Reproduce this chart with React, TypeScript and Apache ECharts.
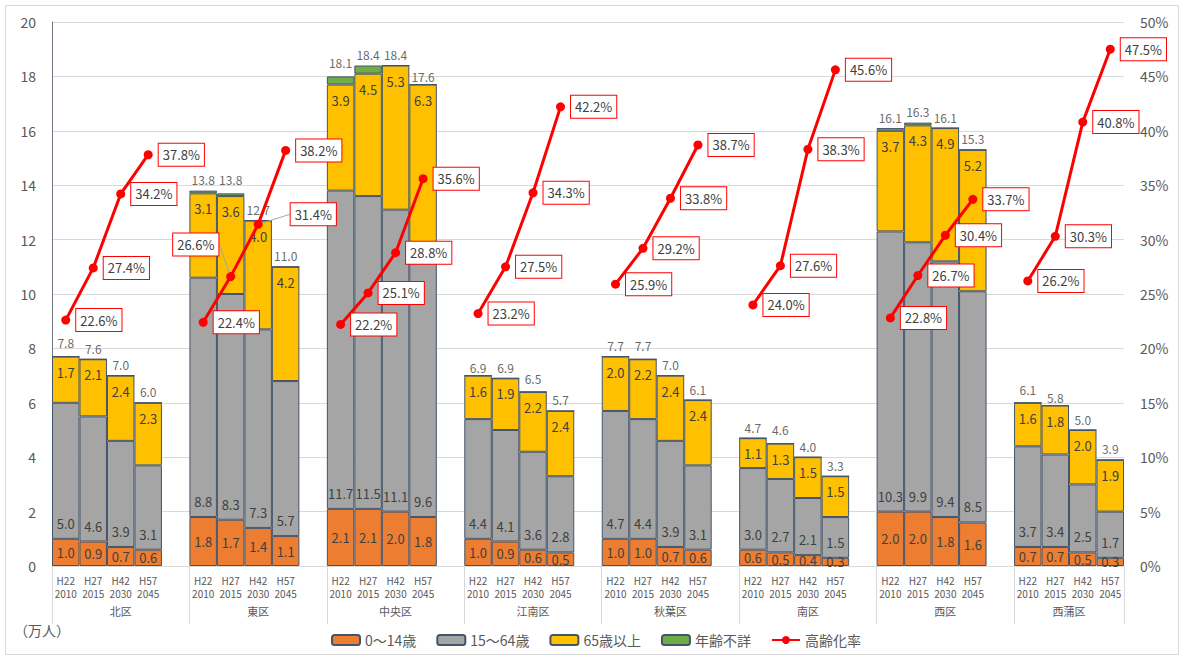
import { useEffect, useRef } from "react";
import * as echarts from "echarts";

// Districts of the city and the four survey / projection years
const districts = ["北区", "東区", "中央区", "江南区", "秋葉区", "南区", "西区", "西蒲区"];
const eras = ["H22", "H27", "H42", "H57"];
const years = ["2010", "2015", "2030", "2045"];

// Population by age group (万人), one row per district, one column per year
const age0to14 = [
  [1.0, 0.9, 0.7, 0.6],
  [1.8, 1.7, 1.4, 1.1],
  [2.1, 2.1, 2.0, 1.8],
  [1.0, 0.9, 0.6, 0.5],
  [1.0, 1.0, 0.7, 0.6],
  [0.6, 0.5, 0.4, 0.3],
  [2.0, 2.0, 1.8, 1.6],
  [0.7, 0.7, 0.5, 0.3],
];
const age15to64 = [
  [5.0, 4.6, 3.9, 3.1],
  [8.8, 8.3, 7.3, 5.7],
  [11.7, 11.5, 11.1, 9.6],
  [4.4, 4.1, 3.6, 2.8],
  [4.7, 4.4, 3.9, 3.1],
  [3.0, 2.7, 2.1, 1.5],
  [10.3, 9.9, 9.4, 8.5],
  [3.7, 3.4, 2.5, 1.7],
];
const age65plus = [
  [1.7, 2.1, 2.4, 2.3],
  [3.1, 3.6, 4.0, 4.2],
  [3.9, 4.5, 5.3, 6.3],
  [1.6, 1.9, 2.2, 2.4],
  [2.0, 2.2, 2.4, 2.4],
  [1.1, 1.3, 1.5, 1.5],
  [3.7, 4.3, 4.9, 5.2],
  [1.6, 1.8, 2.0, 1.9],
];
const ageUnknown = [
  [0, 0, 0, 0],
  [0.1, 0.1, 0, 0],
  [0.3, 0.3, 0, 0],
  [0, 0, 0, 0],
  [0, 0, 0, 0],
  [0, 0, 0, 0],
  [0.1, 0.1, 0, 0],
  [0, 0, 0, 0],
];
const totals = [
  [7.8, 7.6, 7.0, 6.0],
  [13.8, 13.8, 12.7, 11.0],
  [18.1, 18.4, 18.4, 17.6],
  [6.9, 6.9, 6.5, 5.7],
  [7.7, 7.7, 7.0, 6.1],
  [4.7, 4.6, 4.0, 3.3],
  [16.1, 16.3, 16.1, 15.3],
  [6.1, 5.8, 5.0, 3.9],
];
// 高齢化率 (%)
const agingRate = [
  [22.6, 27.4, 34.2, 37.8],
  [22.4, 26.6, 31.4, 38.2],
  [22.2, 25.1, 28.8, 35.6],
  [23.2, 27.5, 34.3, 42.2],
  [25.9, 29.2, 33.8, 38.7],
  [24.0, 27.6, 38.3, 45.6],
  [22.8, 26.7, 30.4, 33.7],
  [26.2, 30.3, 40.8, 47.5],
];

const leftTicks = { min: 0, max: 20, interval: 2 };
const rightTicks = { min: 0, max: 50, interval: 5 };

const seriesNames = ["0～14歳", "15～64歳", "65歳以上", "年齢不詳", "高齢化率"];

// Each district occupies four year slots followed by one empty slot (none after the last)
function flatten(rows: number[][]): (number | string)[] {
  const out: (number | string)[] = [];
  rows.forEach((row, g) => {
    row.forEach((v) => out.push(v));
    if (g < rows.length - 1) out.push("-");
  });
  return out;
}

const categories: string[] = [];
districts.forEach((_, g) => {
  eras.forEach((e, i) => categories.push(`${e}\n${years[i]}`));
  if (g < districts.length - 1) categories.push("");
});
const slotCount = categories.length;

// Slot boundaries and centres for the district row of the axis
const groupEdges: number[] = [];
const groupCentres: number[] = [];
districts.forEach((_, g) => {
  groupEdges.push(g * 5);
  groupCentres.push(g === districts.length - 1 ? g * 5 + 2 : g * 5 + 2.5);
});
groupEdges.push(slotCount);

// Labels that are pulled away from their point, with a leader line
const movedRateLabels: Record<number, [number, number]> = {
  6: [-68, -32],
  7: [22, -10],
};

const TEXT = "#595959";
const LABEL = "#404040";
const BORDER = "#44546A";
const FONT = "'Noto Sans CJK JP', 'Noto Sans', sans-serif";

export default function App() {
  const ref = useRef<HTMLDivElement>(null);

  useEffect(() => {
    if (!ref.current) return;
    const chart = echarts.init(ref.current, undefined, { renderer: "svg" });

    const rateData = flatten(agingRate).map((v, i) =>
      v === "-"
        ? "-"
        : movedRateLabels[i]
        ? { value: v, labelLine: { show: true, lineStyle: { color: "#A6A6A6", width: 1 } } }
        : v
    );

    const barLabel = (position: string, distance = 5) => ({
      show: true,
      position,
      distance,
      color: LABEL,
      fontSize: 13,
      fontFamily: FONT,
      formatter: (p: any) => Number(p.value).toFixed(1),
    });

    const option: echarts.EChartsOption = {
      animation: false,
      backgroundColor: "#fff",
      textStyle: { fontFamily: FONT },
      grid: { left: 52, right: 60, top: 22, bottom: 93 },
      legend: {
        data: seriesNames,
        left: 326,
        top: 628,
        itemWidth: 28,
        itemHeight: 10,
        itemGap: 20,
        textStyle: { color: TEXT, fontSize: 14, fontFamily: FONT },
      },
      graphic: [
        {
          type: "rect",
          shape: { x: 5.5, y: 5.5, width: 1173, height: 649 },
          style: { fill: "none", stroke: "#D9D9D9", lineWidth: 1 },
          silent: true,
        },
        {
          type: "text",
          left: 14,
          top: 623,
          style: { text: "（万人）", fill: TEXT, fontSize: 14, fontFamily: FONT },
        },
      ],
      xAxis: [
        {
          type: "category",
          data: categories,
          axisLine: { show: true, lineStyle: { color: "#D9D9D9" } },
          axisTick: { show: false },
          axisLabel: {
            interval: 0,
            color: TEXT,
            fontSize: 10,
            lineHeight: 13,
            margin: 8,
          },
          splitLine: { show: false },
        },
        {
          type: "value",
          min: 0,
          max: slotCount,
          position: "bottom",
          axisLine: { show: false },
          splitLine: { show: false },
          axisTick: {
            show: true,
            length: 58,
            customValues: groupEdges,
            lineStyle: { color: "#D9D9D9" },
          },
          axisLabel: {
            show: true,
            customValues: groupCentres,
            margin: 39,
            color: TEXT,
            fontSize: 11,
            formatter: (v: number) => districts[Math.min(Math.floor(v / 5), districts.length - 1)],
          },
        },
      ],
      yAxis: [
        {
          type: "value",
          ...leftTicks,
          axisLine: { show: true, lineStyle: { color: "#6B7380" } },
          axisTick: { show: false },
          axisLabel: { color: TEXT, fontSize: 14, margin: 16 },
          splitLine: { lineStyle: { color: "#D9D9D9" } },
        },
        {
          type: "value",
          ...rightTicks,
          position: "right",
          axisLine: { show: false },
          axisTick: { show: false },
          axisLabel: { color: TEXT, fontSize: 14, margin: 16, formatter: "{value}%" },
          splitLine: { show: false },
        },
      ],
      series: [
        {
          name: seriesNames[0],
          type: "bar",
          stack: "pop",
          barWidth: "100%",
          data: flatten(age0to14),
          itemStyle: { color: "#ED7D31", borderColor: BORDER, borderWidth: 1 },
          label: barLabel("inside"),
        },
        {
          name: seriesNames[1],
          type: "bar",
          stack: "pop",
          barWidth: "100%",
          data: flatten(age15to64),
          itemStyle: { color: "#A5A5A5", borderColor: BORDER, borderWidth: 1 },
          label: barLabel("insideBottom", 9),
        },
        {
          name: seriesNames[2],
          type: "bar",
          stack: "pop",
          barWidth: "100%",
          data: flatten(age65plus),
          itemStyle: { color: "#FFC000", borderColor: BORDER, borderWidth: 1 },
          label: barLabel("insideTop", 9),
        },
        {
          name: seriesNames[3],
          type: "bar",
          stack: "pop",
          barWidth: "100%",
          data: flatten(ageUnknown),
          itemStyle: { color: "#70AD47", borderColor: BORDER, borderWidth: 1 },
        },
        {
          name: "合計",
          type: "scatter",
          data: flatten(totals),
          symbolSize: 0,
          silent: true,
          z: 4,
          label: {
            show: true,
            position: "top",
            distance: 5,
            color: LABEL,
            fontSize: 12,
            formatter: (p: any) => Number(p.value).toFixed(1),
          },
        },
        {
          name: seriesNames[4],
          type: "line",
          yAxisIndex: 1,
          data: rateData as any,
          connectNulls: false,
          z: 6,
          symbol: "circle",
          symbolSize: 9,
          lineStyle: { color: "#FF0000", width: 3 },
          itemStyle: { color: "#FF0000" },
          label: {
            show: true,
            position: "right",
            distance: 6,
            color: LABEL,
            fontSize: 13,
            backgroundColor: "#fff",
            borderColor: "#FF0000",
            borderWidth: 1,
            padding: [5, 4, 4, 4],
            formatter: (p: any) => `${Number(p.value).toFixed(1)}%`,
          },
          labelLayout: (p: any) => {
            const shift = movedRateLabels[p.dataIndex];
            return shift ? { dx: shift[0], dy: shift[1] } : {};
          },
        },
      ],
    };

    chart.setOption(option);
    return () => chart.dispose();
  }, []);

  return (
    <div
      ref={ref}
      style={{ position: "absolute", left: 0, top: 0, width: 1184, height: 659, background: "#fff" }}
    />
  );
}
